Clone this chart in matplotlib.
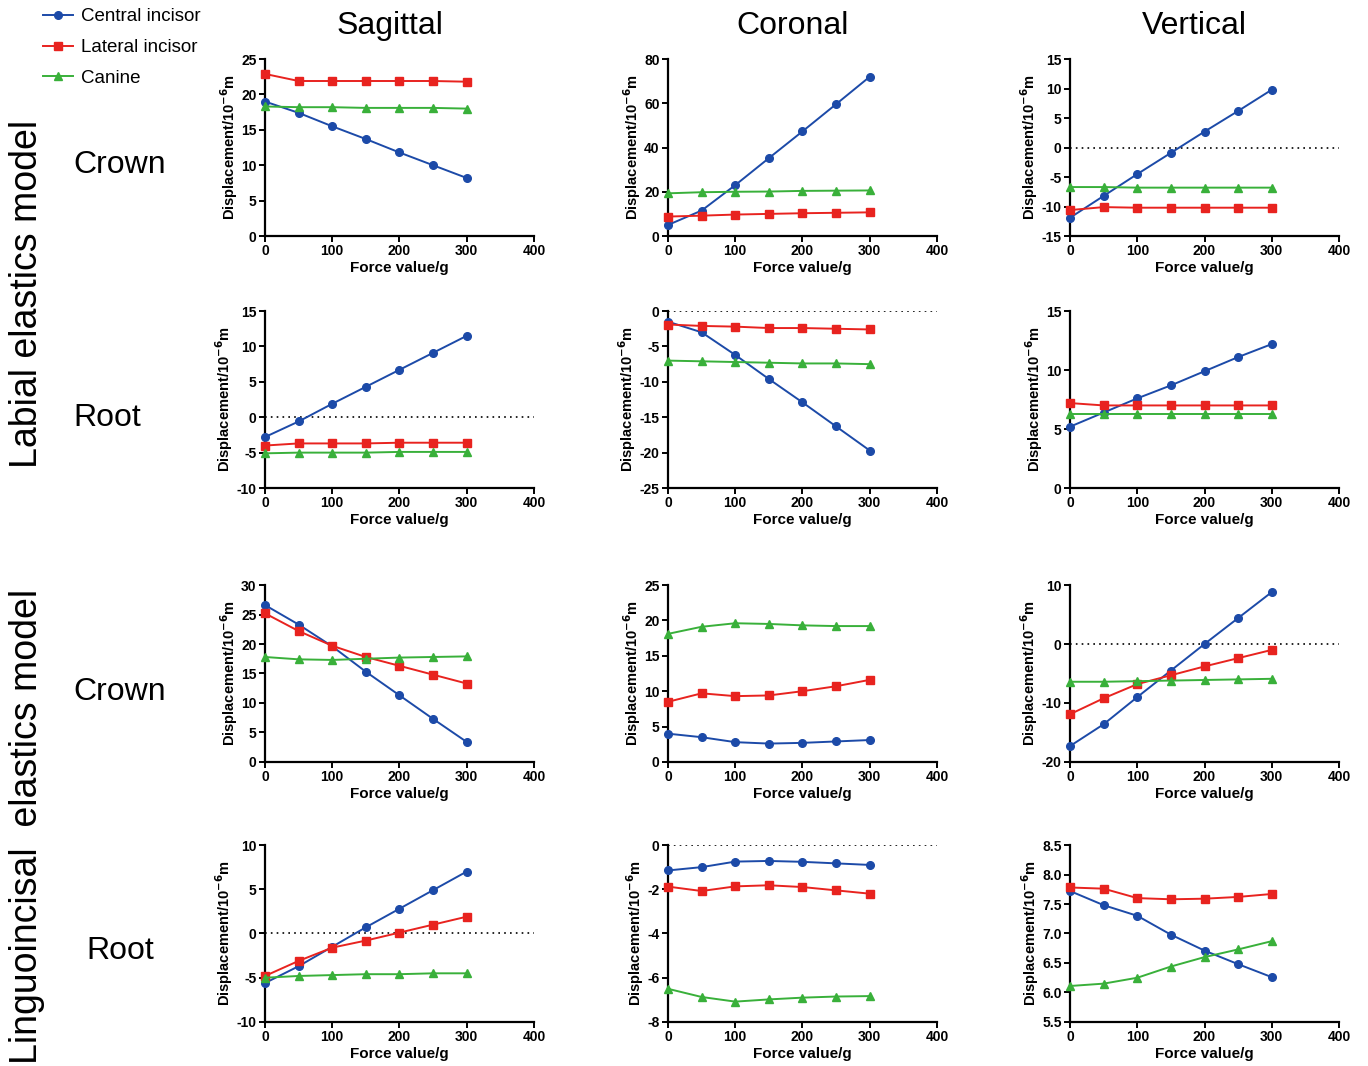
import matplotlib
matplotlib.use("Agg")
import matplotlib.pyplot as plt

plt.rcParams['font.family'] = ['Liberation Sans', 'DejaVu Sans']
plt.rcParams['axes.unicode_minus'] = False

force = [0, 50, 100, 150, 200, 250, 300]
series_names = ["Central incisor", "Lateral incisor", "Canine"]
col_titles = ["Sagittal", "Coronal", "Vertical"]
row_labels = ["Crown", "Root", "Crown", "Root"]
model_labels = ["Labial elastics model", "Linguoincisal  elastics model"]

# labial elastics model, crown
lab_crown_sag = [[19.0, 17.4, 15.5, 13.7, 11.8, 10.0, 8.2],
                 [22.9, 21.9, 21.9, 21.9, 21.9, 21.9, 21.8],
                 [18.3, 18.2, 18.2, 18.1, 18.1, 18.1, 18.0]]
lab_crown_cor = [[5.0, 11.5, 23.0, 35.2, 47.3, 59.6, 72.0],
                 [8.8, 9.2, 9.7, 10.0, 10.3, 10.5, 10.7],
                 [19.3, 19.8, 20.0, 20.1, 20.4, 20.5, 20.6]]
lab_crown_ver = [[-11.9, -8.2, -4.5, -0.9, 2.7, 6.2, 9.8],
                 [-10.6, -10.1, -10.2, -10.2, -10.2, -10.2, -10.2],
                 [-6.7, -6.7, -6.8, -6.8, -6.8, -6.8, -6.8]]
# labial elastics model, root
lab_root_sag = [[-2.8, -0.6, 1.9, 4.3, 6.7, 9.1, 11.5],
                [-4.0, -3.7, -3.7, -3.7, -3.6, -3.6, -3.6],
                [-5.1, -5.0, -5.0, -5.0, -4.9, -4.9, -4.9]]
lab_root_cor = [[-1.5, -3.0, -6.2, -9.6, -12.9, -16.3, -19.7],
                [-1.9, -2.1, -2.2, -2.4, -2.4, -2.5, -2.6],
                [-7.0, -7.1, -7.2, -7.3, -7.4, -7.4, -7.5]]
lab_root_ver = [[5.2, 6.4, 7.6, 8.7, 9.9, 11.1, 12.2],
                [7.2, 7.0, 7.0, 7.0, 7.0, 7.0, 7.0],
                [6.3, 6.3, 6.3, 6.3, 6.3, 6.3, 6.3]]
# linguoincisal elastics model, crown
lin_crown_sag = [[26.6, 23.3, 19.6, 15.3, 11.3, 7.3, 3.4],
                 [25.2, 22.2, 19.7, 17.8, 16.3, 14.8, 13.3],
                 [17.8, 17.4, 17.3, 17.5, 17.7, 17.8, 17.9]]
lin_crown_cor = [[4.0, 3.5, 2.8, 2.6, 2.7, 2.9, 3.1],
                 [8.5, 9.7, 9.3, 9.4, 10.0, 10.7, 11.6],
                 [18.1, 19.1, 19.6, 19.5, 19.3, 19.2, 19.2]]
lin_crown_ver = [[-17.3, -13.6, -9.0, -4.5, 0.0, 4.4, 8.8],
                 [-11.9, -9.2, -6.8, -5.3, -3.8, -2.4, -1.0],
                 [-6.4, -6.4, -6.3, -6.2, -6.1, -6.0, -5.9]]
# linguoincisal elastics model, root
lin_root_sag = [[-5.6, -3.7, -1.5, 0.7, 2.8, 4.9, 7.0],
                [-4.8, -3.1, -1.6, -0.8, 0.1, 1.0, 1.9],
                [-5.0, -4.8, -4.7, -4.6, -4.6, -4.5, -4.5]]
lin_root_cor = [[-1.15, -1.0, -0.75, -0.72, -0.76, -0.83, -0.9],
                [-1.88, -2.08, -1.87, -1.82, -1.9, -2.05, -2.2],
                [-6.5, -6.87, -7.08, -6.98, -6.9, -6.85, -6.83]]
lin_root_ver = [[7.72, 7.48, 7.3, 6.98, 6.71, 6.48, 6.26],
                [7.78, 7.76, 7.6, 7.58, 7.59, 7.62, 7.67],
                [6.11, 6.15, 6.25, 6.44, 6.6, 6.73, 6.87]]

panels = [[lab_crown_sag, lab_crown_cor, lab_crown_ver],
          [lab_root_sag, lab_root_cor, lab_root_ver],
          [lin_crown_sag, lin_crown_cor, lin_crown_ver],
          [lin_root_sag, lin_root_cor, lin_root_ver]]

# (ymin, ymax, step) per panel
yscales = [[(0, 25, 5), (0, 80, 20), (-15, 15, 5)],
           [(-10, 15, 5), (-25, 0, 5), (0, 15, 5)],
           [(0, 30, 5), (0, 25, 5), (-20, 10, 10)],
           [(-10, 10, 5), (-8, 0, 2), (5.5, 8.5, 0.5)]]

colors = ["#1c4aa8", "#e8231f", "#39b03a"]
markers = ["o", "s", "^"]

fig = plt.figure(figsize=(13.68, 10.66), dpi=100)

lefts = [0.1937, 0.4883, 0.7822]
bottoms = [0.7786, 0.5422, 0.2852, 0.0413]
w, h = 0.1966, 0.166

handles = []
for r in range(4):
    for c in range(3):
        ax = fig.add_axes([lefts[c], bottoms[r], w, h])
        data = panels[r][c]
        ymin, ymax, step = yscales[r][c]
        for k in range(3):
            ln, = ax.plot(force, data[k], color=colors[k], marker=markers[k],
                          ms=5.5, lw=1.4, clip_on=False, zorder=3)
            if r == 0 and c == 0:
                handles.append(ln)
        if ymin < 0 <= ymax:
            ax.axhline(0, color="black", lw=1.2, ls=(0, (1, 2.5)), zorder=1)
        ax.set_xlim(0, 400)
        ax.set_ylim(ymin, ymax)
        ax.set_xticks([0, 100, 200, 300, 400])
        n = int(round((ymax - ymin) / step))
        yt = [ymin + i * step for i in range(n + 1)]
        ax.set_yticks(yt)
        if step < 1:
            ax.set_yticklabels(["%.1f" % v for v in yt])
        else:
            ax.set_yticklabels(["%d" % round(v) for v in yt])
        for s in ["top", "right"]:
            ax.spines[s].set_visible(False)
        for s in ["left", "bottom"]:
            ax.spines[s].set_linewidth(1.6)
        ax.tick_params(direction="out", length=4, width=1.4, labelsize=10, pad=2)
        for lab in ax.get_xticklabels() + ax.get_yticklabels():
            lab.set_fontweight("bold")
        ax.set_xlabel("Force value/g", fontsize=11, fontweight="bold", labelpad=2)
        ax.set_ylabel("Displacement/10$^{\\mathbf{-6}}$m", fontsize=10.5,
                      fontweight="bold", labelpad=1)
        if r == 0:
            ax.set_title(col_titles[c], fontsize=23, pad=18, x=0.463)

# row labels
row_y = [165, 418, 692, 951]
row_x = [120, 107, 120, 120]
for lab, x, y in zip(row_labels, row_x, row_y):
    fig.text(x / 1368, 1 - y / 1066, lab, fontsize=23, ha="center", va="center")

fig.text(27 / 1368, 1 - 294 / 1066, model_labels[0], fontsize=27,
         rotation=90, ha="center", va="center")
fig.text(27 / 1368, 1 - 826 / 1066, model_labels[1], fontsize=27,
         rotation=90, ha="center", va="center")

fig.legend(handles, series_names, loc="upper left", bbox_to_anchor=(0.019, 1.008),
           frameon=False, fontsize=13.5, handlelength=1.6, labelspacing=0.72,
           handletextpad=0.45)

fig.savefig("out.png", dpi=100)
